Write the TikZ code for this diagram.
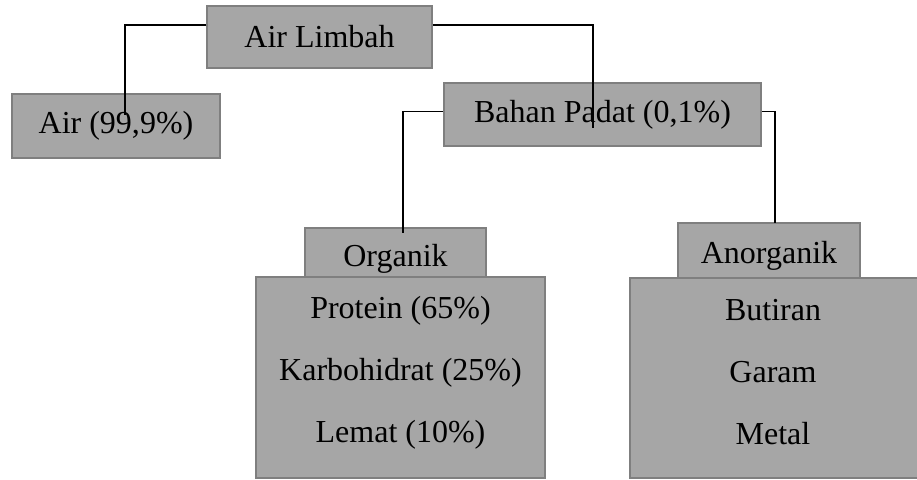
\documentclass[tikz,border=0pt]{standalone}
\usepackage{fontspec}
\setmainfont{Liberation Serif}
\definecolor{boxgray}{HTML}{A6A6A6}
\definecolor{edgegray}{HTML}{7F7F7F}

\begin{document}
\begin{tikzpicture}[x=1pt,y=-1pt,
  box/.style={fill=boxgray, draw=edgegray, line width=1.5pt, inner sep=0pt,
    font=\fontsize{32}{62}\selectfont, align=center},
  words/.style={font=\fontsize{32}{62}\selectfont, align=center, inner sep=0pt},
  link/.style={draw=black, line width=1.3pt}]
\useasboundingbox (0,0) rectangle (917,479);

\node[box, minimum width=225pt, minimum height=62pt] (limbah) at (319.5,37) {Air Limbah};
\node[box, minimum width=208pt, minimum height=64pt] (air) at (116,126) {Air (99,9\%)};
\node[box, minimum width=317pt, minimum height=63pt] (padat) at (602.5,114.5) {Bahan Padat (0,1\%)};

\node[box, minimum width=181pt, minimum height=49pt, text height=34pt] (organik) at (395.5,252.5) {Organik};
\node[box, minimum width=289pt, minimum height=201pt] (orglist) at (400.5,377.5) {};
\node[words] (orgitems) at (400.5,373) {Protein (65\%)\\Karbohidrat (25\%)\\Lemat (10\%)};

\node[box, minimum width=182pt, minimum height=55pt, text height=32pt] (anorganik) at (769,250.5) {Anorganik};
\node[box, minimum width=289pt, minimum height=200pt] (anorglist) at (774.5,378) {};
\node[words] (anorgitems) at (773,372) {Butiran\\Garam\\Metal};

% free ends of the connectors
\coordinate (airtip) at (125,115);
\coordinate (padattip) at (593,128);
\coordinate (organiktip) at (403,233);
\coordinate (anorganiktip) at (775,223);

\draw[link] ([yshift=12pt]limbah.west) -| (airtip);
\draw[link] ([yshift=12pt]limbah.east) -| (padattip);
\draw[link] ([yshift=3pt]padat.west) -| (organiktip);
\draw[link] ([yshift=3pt]padat.east) -| (anorganiktip);
\end{tikzpicture}
\end{document}
